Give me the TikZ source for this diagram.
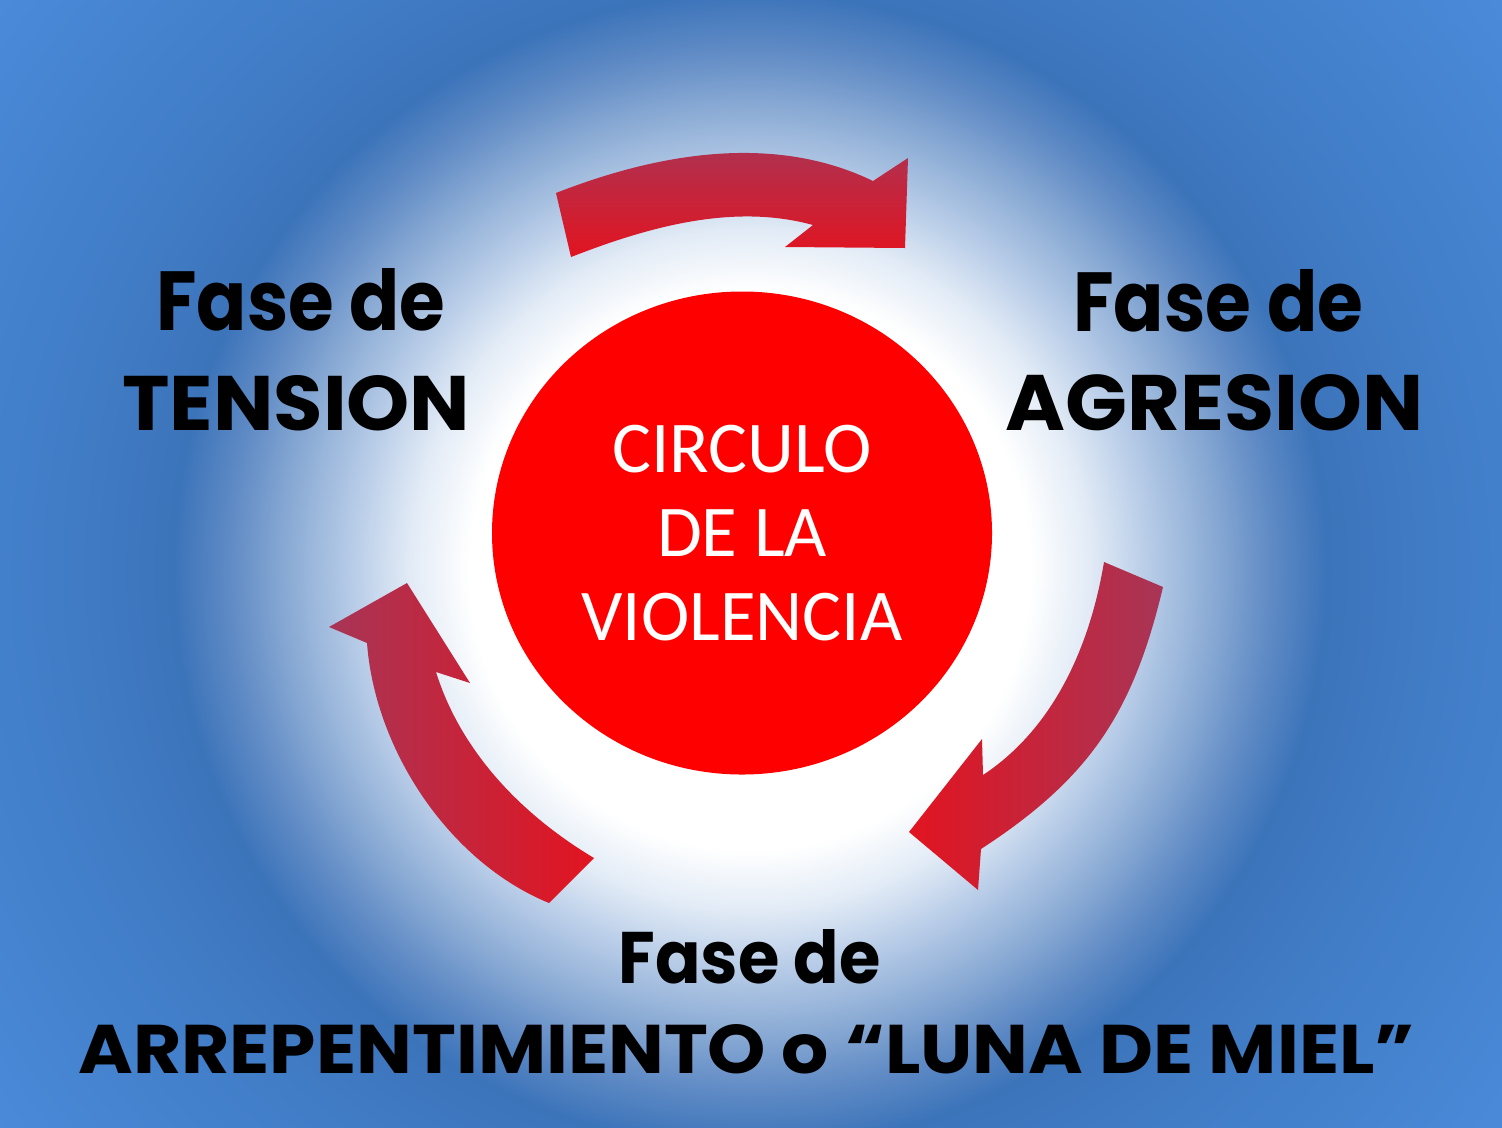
\documentclass[tikz,border=0pt]{standalone}
\usepackage{fontspec}
\usepackage{graphicx}
\usetikzlibrary{shapes.geometric}

\newfontfamily\phasefont{Poppins}
\newfontfamily\circlefont{Carlito}

\definecolor{glowA}{RGB}{226,235,246}
\definecolor{glowB}{RGB}{182,203,231}
\definecolor{glowC}{RGB}{140,172,213}
\definecolor{glowD}{RGB}{96,139,197}
\definecolor{ringblue}{RGB}{60,116,186}
\definecolor{midblue}{RGB}{65,125,199}
\definecolor{edgeblue}{RGB}{74,138,217}
\definecolor{circlered}{RGB}{255,0,0}
\definecolor{arrowred}{RGB}{226,20,32}
\definecolor{arrowplum}{RGB}{168,53,86}

\pgfdeclareradialshading{bgglow}{\pgfpoint{0bp}{0bp}}{color(0bp)=(white); color(7bp)=(white); color(8.5bp)=(glowA); color(10bp)=(glowB); color(11.5bp)=(glowC); color(13bp)=(glowD); color(14.4bp)=(ringblue); color(17.5bp)=(midblue); color(23.5bp)=(edgeblue); color(50bp)=(edgeblue)}

\newcommand{\phaselabel}[3]{\resizebox{#1}{#2}{\phasefont\bfseries #3}}

\begin{document}
\begin{tikzpicture}[x=0.2mm,y=-0.2mm]
          \tikzstyle{phase}=[inner sep=0pt,anchor=base west,text=black]
          \tikzstyle{cyclearrow}=[draw=none]

          \useasboundingbox (0,0) rectangle (1502,1127);
          \begin{scope}
            \clip (0,0) rectangle (1502,1127);
            \shade[shading=bgglow] (-250,-430) rectangle (1750,1570);
          \end{scope}

          \shade[cyclearrow, top color=arrowplum, bottom color=arrowred]
            (556,193) .. controls (658,153) and (774,133) .. (873,181)
            -- (908,158) -- (905,248) -- (785,247) -- (813,225)
            .. controls (733,203) and (648,227) .. (571,257) -- cycle;
          \shade[cyclearrow, left color=arrowred, right color=arrowplum]
            (1163,587) .. controls (1133,713) and (1090,778) .. (981,849)
            -- (978,890) -- (909,832) -- (982,739) -- (983,775)
            .. controls (1054,728) and (1090,646) .. (1104,562) -- cycle;
          \shade[cyclearrow, left color=arrowplum, right color=arrowred]
            (594,858) .. controls (522,815) and (461,752) .. (436,672)
            -- (470,683) -- (407,583) -- (329,627) -- (367,643)
            .. controls (375,750) and (449,862) .. (549,903) -- cycle;

          \node (circulo) at (742,533) [ellipse, fill=circlered, minimum width=100mm, minimum height=96.6mm, text=white, align=center, font=\circlefont\fontsize{41.5}{47.8}\selectfont] {CIRCULO\\DE LA\\VIOLENCIA};

          \node (tensionA) at (156,330) [phase] {\phaselabel{57.8mm}{12.4mm}{Fase de}};
          \node (tensionB) at (122,430) [phase] {\phaselabel{69.6mm}{11mm}{TENSION}};
          \node (agresionA) at (1073,331) [phase] {\phaselabel{58mm}{12.4mm}{Fase de}};
          \node (agresionB) at (1005,430) [phase] {\phaselabel{83.6mm}{11.2mm}{AGRESION}};
          \node (mielA) at (618,983) [phase] {\phaselabel{52.4mm}{10.8mm}{Fase de}};
          \node (mielB) at (78,1073) [phase] {\phaselabel{267.2mm}{9.8mm}{ARREPENTIMIENTO o “LUNA DE MIEL”}};
        \end{tikzpicture}
\end{document}
